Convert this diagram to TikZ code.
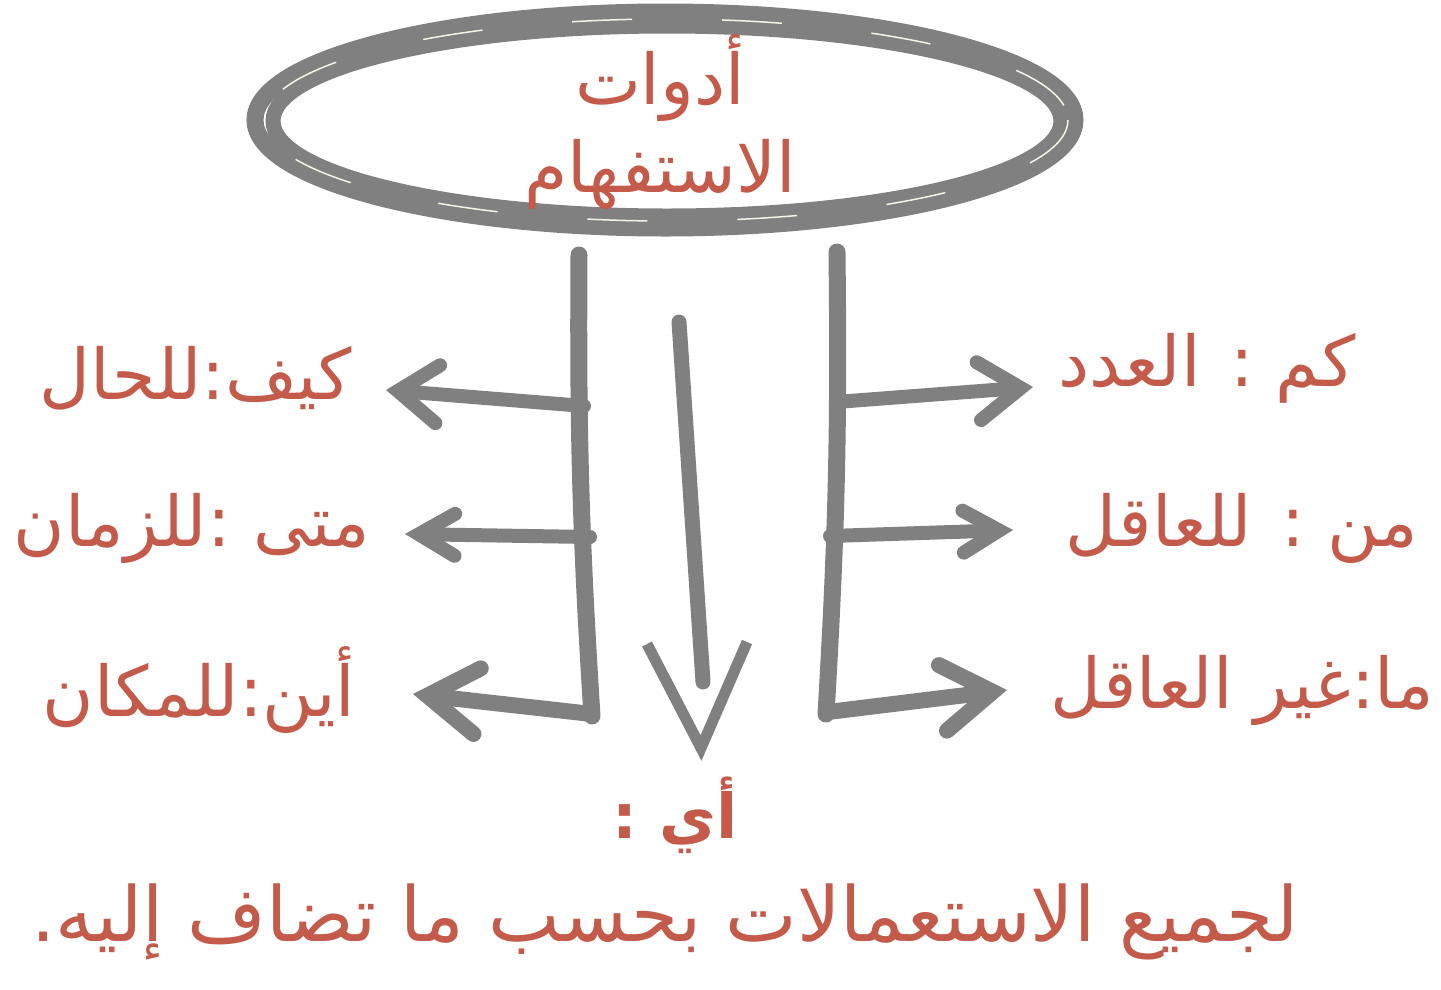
\documentclass[tikz,border=0pt]{standalone}
\usepackage{fontspec}
\newfontfamily\arabicfont[Script=Arabic]{DejaVu Sans}
\TeXXeTstate=1
\usepackage{tikz}
\usetikzlibrary{arrows.meta}
\definecolor{inkred}{RGB}{196,90,73}
\definecolor{sketchgray}{RGB}{128,128,128}
\definecolor{paper}{RGB}{244,244,232}

\begin{document}
\begin{tikzpicture}[x=1pt, y=-1pt,
    lbl/.style={text=inkred, font=\arabicfont\fontsize{70}{88}\selectfont, inner sep=0pt},
    ring/.style={draw=sketchgray, line width=#1},
    pillar/.style={draw=sketchgray, line width=17pt, line cap=round},
    spoke/.style 2 args={draw=sketchgray, line width=14pt, line cap=round,
        -{Straight Barb[length=#1pt, width=#2pt, line cap=round]}}]
\useasboundingbox (0, 0) rectangle (1441, 989);
% title ring
\coordinate (hub) at (665, 120);
\draw[ring=17pt] (hub) ellipse [x radius=410, y radius=108];
\draw[ring=15pt] ([shift={(2,1)}]hub) ellipse [x radius=394, y radius=95];
\draw[draw=paper, line width=1.5pt, dash pattern=on 60pt off 90pt] ([shift={(1,0)}]hub) ellipse [x radius=402, y radius=101];
\node[lbl, align=center] (title) at (660, 122) {\beginR أدوات\endR\\\beginR الاستفهام\endR};
% pillars
\coordinate (lt) at (579, 255);
\coordinate (lb) at (592, 716);
\coordinate (rt) at (837, 252);
\coordinate (rb) at (826, 714);
\draw[pillar] (lt) to[bend right=2] (lb);
\draw[pillar] (rt) to[bend left=2] (rb);
% labels
\node[lbl] (kayfa) at (196, 378) {\beginR كيف:للحال\endR};
\node[lbl] (mata)  at (192, 528) {\beginR متى :للزمان\endR};
\node[lbl] (ayna)  at (199, 690) {\beginR أين:للمكان\endR};
\node[lbl] (kam)   at (1207, 368) {\beginR كم : العدد\endR};
\node[lbl] (man)   at (1242, 528) {\beginR من : للعاقل\endR};
\node[lbl] (maa)   at (1242, 690) {\beginR ما:غير العاقل\endR};
\node[lbl, font=\arabicfont\bfseries\fontsize{62}{70}\selectfont] (ayy) at (675, 815) {\beginR أي :\endR};
\node[lbl, font=\arabicfont\fontsize{76}{90}\selectfont] (note) at (665, 922) {\beginR لجميع الاستعمالات بحسب ما تضاف إليه.\endR};
% spokes
\coordinate (l1) at (584, 406);
\coordinate (l2) at (590, 537);
\coordinate (l3) at (592, 714);
\coordinate (r1) at (836, 402);
\coordinate (r2) at (830, 536);
\coordinate (r3) at (828, 712);
\coordinate (tl1) at (386, 390);
\coordinate (tl2) at (405, 534);
\coordinate (tl3) at (413, 694);
\coordinate (tr1) at (1033, 387);
\coordinate (tr2) at (1013, 530);
\coordinate (tr3) at (1007, 690);
\draw[spoke={40}{58}] (l1) -- (tl1);
\draw[spoke={36}{42}] (l2) -- (tl2);
\draw[spoke={50}{66}, line width=16pt] (l3) -- (tl3);
\draw[spoke={42}{58}] (r1) -- (tr1);
\draw[spoke={36}{42}] (r2) -- (tr2);
\draw[spoke={50}{66}, line width=16pt] (r3) -- (tr3);
% central arrow
\coordinate (c1) at (679, 322);
\coordinate (c2) at (703, 682);
\coordinate (c3) at (701, 748);
\draw[pillar, line width=15pt] (c1) -- (c2);
\draw[pillar, line width=11pt, line cap=butt, line join=miter]
    ([shift={(-54,-104)}]c3) -- (c3) -- ([shift={(46,-106)}]c3);
\end{tikzpicture}
\end{document}
